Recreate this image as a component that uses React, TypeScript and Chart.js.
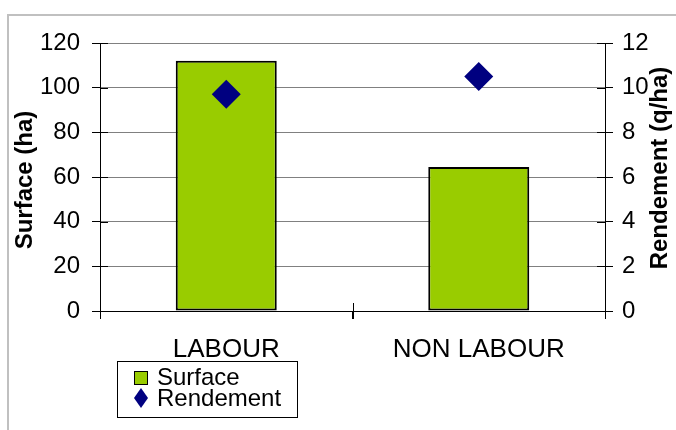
import React, { useEffect, useRef } from "react";
import { Chart, registerables } from "chart.js";

Chart.register(...registerables);

const categories = ["LABOUR", "NON LABOUR"];
const surfaceValues = [112, 64.5];
const rendementValues = [9.7, 10.5];
const surfaceTicks = { min: 0, max: 120, step: 20 };
const rendementTicks = { min: 0, max: 12, step: 2 };
const leftTitle = "Surface (ha)";
const rightTitle = "Rendement (q/ha)";
const legendLabels = ["Surface", "Rendement"];

const FONT = "'Liberation Sans', Arial, sans-serif";
const GREEN = "#99CC00";
const NAVY = "#000080";

const framePlugin = {
  id: "frame",
  beforeDraw(chart: any) {
    const ctx = chart.ctx;
    ctx.save();
    ctx.fillStyle = "#ffffff";
    ctx.fillRect(0, 0, chart.width, chart.height);
    ctx.strokeStyle = "#c0c0c0";
    ctx.lineWidth = 2;
    ctx.beginPath();
    ctx.moveTo(8, chart.height);
    ctx.lineTo(8, 15);
    ctx.lineTo(chart.width, 15);
    ctx.stroke();
    ctx.restore();
  },
};

const extrasPlugin = {
  id: "extras",
  afterDraw(chart: any) {
    const ctx = chart.ctx;
    const { x, y, y1 } = chart.scales;
    ctx.save();
    // inward halves of crossing tick marks
    ctx.strokeStyle = "#000";
    ctx.lineWidth = 1;
    ctx.beginPath();
    y.ticks.forEach((_t: any, i: number) => {
      const p = Math.round(y.getPixelForTick(i)) + 0.5;
      ctx.moveTo(y.right, p);
      ctx.lineTo(y.right + 8, p);
    });
    y1.ticks.forEach((_t: any, i: number) => {
      const p = Math.round(y1.getPixelForTick(i)) + 0.5;
      ctx.moveTo(y1.left - 8, p);
      ctx.lineTo(y1.left, p);
    });
    const n = categories.length;
    for (let i = 0; i <= n; i++) {
      const p = Math.round(x.left + (i * x.width) / n) + 0.5;
      ctx.moveTo(p, x.top - 8);
      ctx.lineTo(p, x.top + 8);
    }
    ctx.moveTo(x.left, Math.round(x.top) + 0.5);
    ctx.lineTo(x.right, Math.round(x.top) + 0.5);
    ctx.stroke();

    // axis titles, both reading bottom-to-top
    ctx.fillStyle = "#000";
    ctx.font = `bold 24px ${FONT}`;
    ctx.textAlign = "center";
    ctx.textBaseline = "middle";
    ctx.save();
    ctx.translate(y.left + 25, 180);
    ctx.rotate(-Math.PI / 2);
    ctx.fillText(leftTitle, 0, 0);
    ctx.restore();
    ctx.save();
    ctx.translate(y1.left + 55, 168);
    ctx.rotate(-Math.PI / 2);
    ctx.fillText(rightTitle, 0, 0);
    ctx.restore();

    // legend
    const lx = 117, ly = 361, lw = 180, lh = 56;
    ctx.strokeStyle = "#000";
    ctx.lineWidth = 1;
    ctx.strokeRect(lx + 0.5, ly + 0.5, lw, lh);
    ctx.fillStyle = GREEN;
    ctx.fillRect(134.5, 371.5, 13, 13);
    ctx.strokeRect(134.5, 371.5, 13, 13);
    ctx.fillStyle = NAVY;
    ctx.beginPath();
    ctx.moveTo(141, 388);
    ctx.lineTo(148, 398);
    ctx.lineTo(141, 408);
    ctx.lineTo(134, 398);
    ctx.closePath();
    ctx.fill();
    ctx.fillStyle = "#000";
    ctx.font = `24px ${FONT}`;
    ctx.textAlign = "left";
    ctx.textBaseline = "middle";
    ctx.fillText(legendLabels[0], 157, 378);
    ctx.fillText(legendLabels[1], 157, 399);
    ctx.restore();
  },
};

export default function App() {
  const ref = useRef<HTMLCanvasElement | null>(null);
  useEffect(() => {
    if (!ref.current) return;
    const chart = new Chart(ref.current, {
      type: "bar",
      data: {
        labels: categories,
        datasets: [
          {
            type: "line",
            label: legendLabels[1],
            data: rendementValues,
            yAxisID: "y1",
            showLine: false,
            pointStyle: "rectRot",
            pointRadius: 14.5,
            pointBackgroundColor: NAVY,
            pointBorderColor: NAVY,
            pointBorderWidth: 0,
            backgroundColor: NAVY,
            borderColor: NAVY,
            order: 0,
          } as any,
          {
            type: "bar",
            label: legendLabels[0],
            data: surfaceValues,
            yAxisID: "y",
            backgroundColor: GREEN,
            borderColor: "#000",
            borderWidth: 2,
            borderSkipped: false,
            barPercentage: 0.4,
            categoryPercentage: 1,
            order: 1,
          },
        ],
      },
      plugins: [framePlugin, extrasPlugin],
      options: {
        responsive: false,
        animation: false,
        layout: { padding: { top: 43, bottom: 69, left: 0, right: 0 } },
        plugins: { legend: { display: false }, tooltip: { enabled: false } },
        scales: {
          x: {
            offset: true,
            grid: {
              offset: true,
              drawOnChartArea: false,
              tickLength: 8,
              color: "#000",
            },
            border: { color: "#000", width: 1 },
            ticks: { color: "#000", font: { family: FONT, size: 26 }, padding: 15 },
            afterFit: (s: any) => {
              s.height = 50;
            },
          },
          y: {
            position: "left",
            min: surfaceTicks.min,
            max: surfaceTicks.max,
            grid: {
              color: (c: any) => (c.tick && c.tick.value === 0 ? "#000" : "#808080"),
              tickColor: "#000",
              tickLength: 8,
            },
            border: { color: "#000", width: 1 },
            ticks: {
              stepSize: surfaceTicks.step,
              color: "#000",
              font: { family: FONT, size: 24 },
              padding: 12,
            },
            afterFit: (s: any) => {
              s.width = 100;
            },
          },
          y1: {
            position: "right",
            min: rendementTicks.min,
            max: rendementTicks.max,
            grid: { drawOnChartArea: false, tickColor: "#000", tickLength: 8 },
            border: { color: "#000", width: 1 },
            ticks: {
              stepSize: rendementTicks.step,
              color: "#000",
              font: { family: FONT, size: 24 },
              padding: 9,
            },
            afterFit: (s: any) => {
              s.width = 71;
            },
          },
        },
      },
    });
    return () => chart.destroy();
  }, []);
  return (
    <div style={{ position: "fixed", left: 0, top: 0, width: 676, height: 430, background: "#fff" }}>
      <canvas ref={ref} width={676} height={430} style={{ width: 676, height: 430, display: "block" }} />
    </div>
  );
}
